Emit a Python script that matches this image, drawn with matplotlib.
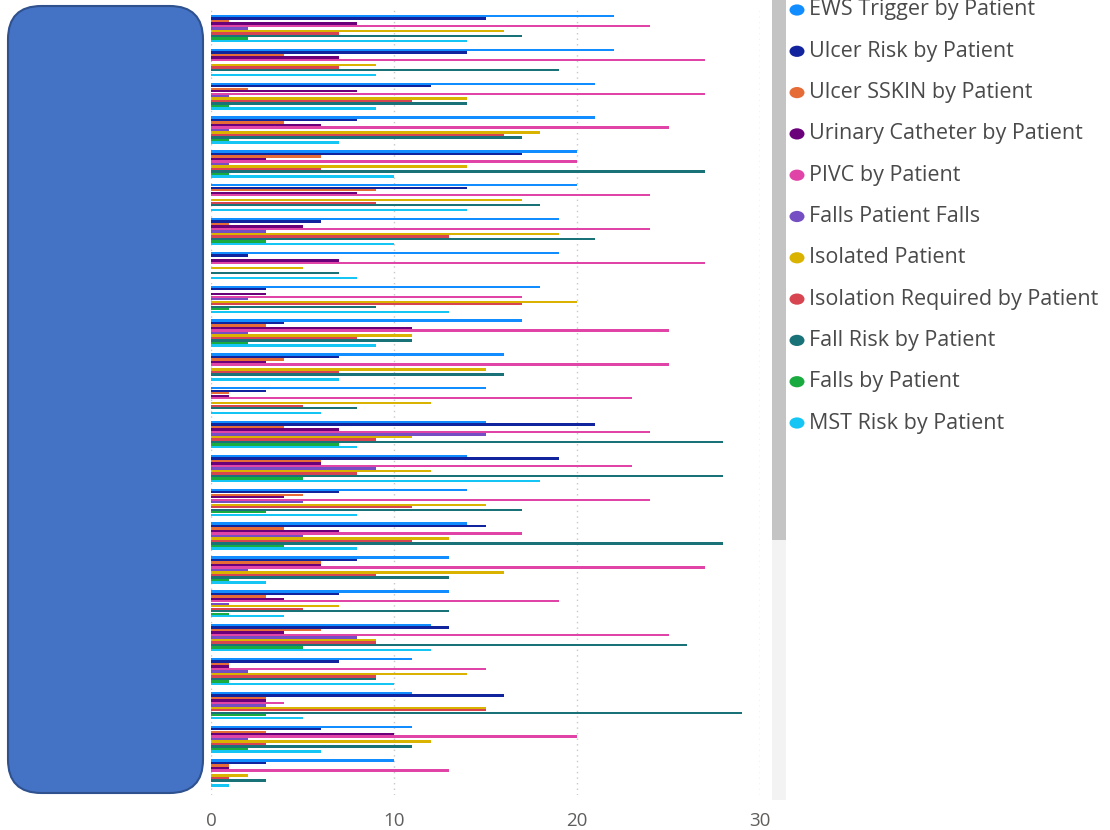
import matplotlib
matplotlib.use("Agg")
import matplotlib.pyplot as plt
import numpy as np
from matplotlib.patches import FancyBboxPatch, Rectangle

plt.rcParams['font.family'] = ['Open Sans', 'DejaVu Sans']

series = ["EWS Trigger by Patient", "Ulcer Risk by Patient", "Ulcer SSKIN by Patient",
          "Urinary Catheter by Patient", "PIVC by Patient", "Falls Patient Falls",
          "Isolated Patient", "Isolation Required by Patient", "Fall Risk by Patient",
          "Falls by Patient", "MST Risk by Patient"]
colors = ["#118DFF", "#12239E", "#E66C37", "#6B007B", "#E044A7", "#744EC2",
          "#D9B300", "#D64550", "#197278", "#1AAB40", "#15C6F4"]

ews       = [22, 22, 21, 21, 20, 20, 19, 19, 18, 17, 16, 15, 15, 14, 14, 14, 13, 13, 12, 11, 11, 11, 10]
ulcer     = [15, 14, 12, 8, 17, 14, 6, 2, 3, 4, 7, 3, 21, 19, 7, 15, 8, 7, 13, 7, 16, 6, 3]
sskin     = [1, 4, 2, 4, 6, 9, 1, 0, 0, 3, 4, 1, 4, 6, 5, 4, 6, 3, 6, 1, 3, 3, 1]
urinary   = [8, 7, 8, 6, 3, 8, 5, 7, 3, 11, 3, 1, 7, 6, 4, 7, 6, 4, 4, 1, 3, 10, 1]
pivc      = [24, 27, 27, 25, 20, 24, 24, 27, 17, 25, 25, 23, 24, 23, 24, 17, 27, 19, 25, 15, 4, 20, 13]
falls_pf  = [2, 0, 1, 1, 1, 0, 3, 0, 2, 2, 0, 0, 15, 9, 5, 5, 2, 1, 8, 2, 3, 2, 0]
isolated  = [16, 9, 14, 18, 14, 17, 19, 5, 20, 11, 15, 12, 11, 12, 15, 13, 16, 7, 9, 14, 15, 12, 2]
iso_req   = [7, 7, 11, 16, 6, 9, 13, 0, 17, 8, 7, 5, 9, 8, 11, 11, 9, 5, 9, 9, 15, 3, 1]
fall_risk = [17, 19, 14, 17, 27, 18, 21, 7, 9, 11, 16, 8, 28, 28, 17, 28, 13, 13, 26, 9, 29, 11, 3]
falls     = [2, 0, 1, 1, 1, 0, 3, 0, 1, 2, 0, 0, 7, 5, 3, 4, 1, 1, 5, 1, 3, 2, 0]
mst       = [14, 9, 9, 7, 10, 14, 10, 8, 13, 9, 7, 6, 8, 18, 8, 8, 3, 4, 12, 10, 5, 6, 1]

data = [ews, ulcer, sskin, urinary, pivc, falls_pf, isolated, iso_req, fall_risk, falls, mst]
x_ticks = [0, 10, 20, 30]

W, H = 1110, 830
fig = plt.figure(figsize=(W / 100, H / 100), dpi=100)

def fx(px):
    return px / W

def fy(py):
    return 1 - py / H

ax_left, ax_right, ax_top, ax_bot = 211, 760, 8, 795
ax = fig.add_axes([fx(ax_left), fy(ax_bot), fx(ax_right - ax_left), (ax_bot - ax_top) / H])

n_groups = len(ews)
n_series = len(data)
group_w = 0.81
bar_h = group_w / n_series
pos = np.arange(n_groups)
for i, (vals, c) in enumerate(zip(data, colors)):
    offs = -group_w / 2 + bar_h * (i + 0.5)
    ax.barh(pos + offs, vals, height=bar_h * 0.95, color=c, edgecolor='none', zorder=3)

ax.set_xlim(0, 30)
ax.set_ylim(22.65, -0.606)
ax.set_xticks(x_ticks)
ax.set_xticklabels([str(t) for t in x_ticks], fontsize=13.5, color='#605E5C')
ax.tick_params(axis='x', length=0, pad=12)
ax.set_yticks([])
for s in ax.spines.values():
    s.set_visible(False)
ax.grid(axis='x', linestyle=(0, (1, 3)), color='#C8C8C8', linewidth=1, zorder=0)
ax.set_axisbelow(True)

# blue rounded rectangle on the left
box = FancyBboxPatch((fx(8), fy(793)), fx(195), (793 - 6) / H,
                     boxstyle="round,pad=0,rounding_size=0.03",
                     transform=fig.transFigure, facecolor='#4472C4', edgecolor='#2F528F',
                     linewidth=1.5, mutation_aspect=W / H)
fig.patches.append(box)

# scrollbar
fig.patches.append(Rectangle((fx(772), fy(800)), fx(14), 800 / H, transform=fig.transFigure,
                             facecolor='#F3F3F3', edgecolor='none'))
fig.patches.append(Rectangle((fx(772), fy(540)), fx(14), 540 / H, transform=fig.transFigure,
                             facecolor='#C4C4C4', edgecolor='none'))

# legend
for i, (name, c) in enumerate(zip(series, colors)):
    y = 10 + i * 41.3
    fig.patches.append(plt.Circle((fx(797), fy(y)), 7.5 / W, transform=fig.transFigure,
                                  facecolor=c, edgecolor='none'))
    fig.text(fx(809), fy(y), name, fontsize=15.5, color='#4a4a4a', va='center', ha='left')

fig.savefig("out.png", dpi=100)
